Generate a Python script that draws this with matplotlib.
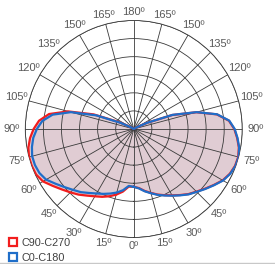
import numpy as np
import matplotlib
matplotlib.use('Agg')
import matplotlib.pyplot as plt
from matplotlib.lines import Line2D

plt.rcParams['font.family'] = ['Liberation Sans', 'DejaVu Sans']

# gamma angles (deg) and intensities (outer ring = 300)
gamma = [0, 5, 10, 15, 20, 25, 30, 35, 40, 45, 50, 55, 60, 65, 70, 75, 80, 85, 90,
         95, 100, 105, 110, 115, 120, 125, 180]
c0 = [160, 165, 175, 184, 194, 203, 213, 224, 236, 246, 258, 271, 285, 294, 299, 300, 296, 288, 279,
      265, 234, 180, 114, 40, 10, 0, 0]
c180 = [160, 158, 172, 182, 190, 198, 206, 216, 228, 238, 250, 264, 280, 288, 291, 291, 286, 279, 268,
        254, 228, 180, 110, 40, 10, 0, 0]
c90 = [160, 164, 174, 183, 193, 202, 212, 223, 235, 245, 257, 270, 284, 293, 298, 299, 295, 287, 278,
       264, 233, 179, 113, 40, 10, 0, 0]
c270 = [160, 160, 176, 188, 198, 207, 215, 225, 237, 248, 260, 274, 290, 298, 300, 300, 296, 288, 277,
        263, 238, 188, 118, 45, 12, 0, 0]
rings = [50, 100, 150, 200, 250, 300]
spokes = list(range(0, 360, 15))
labels = ['C90-C270', 'C0-C180']
colors = ['#f21d1d', '#1f6ec9']


def full_curve(right, left):
    # right half goes 0 -> 180, left half comes back 180 -> 360
    th = np.deg2rad(np.concatenate([gamma, 360 - np.array(gamma[::-1])]))
    r = np.concatenate([right, left[::-1]])
    return th, r


fig = plt.figure(figsize=(2.75, 2.64), dpi=100)
ax = fig.add_axes([0.092, 0.1004, 0.789, 0.822], projection='polar')
ax.set_theta_zero_location('S')
ax.set_theta_direction(1)

th_r, r_r = full_curve(c90, c270)
th_b, r_b = full_curve(c0, c180)
ax.fill(th_r, r_r, color='#e0ccd3', zorder=0.5, lw=0)
ax.plot(th_r, r_r, color=colors[0], lw=1.6, zorder=3)
ax.plot(th_b, r_b, color=colors[1], lw=1.6, zorder=4)

ax.set_ylim(0, 300)
ax.set_yticks(rings)
ax.set_yticklabels([])
ax.set_xticks(np.deg2rad(spokes))
ax.set_xticklabels([])
ax.set_axisbelow(False)
ax.grid(True, color='#3a3a3a', lw=0.6)
ax.spines['polar'].set_color('#3a3a3a')
ax.spines['polar'].set_linewidth(0.6)
ax.set_facecolor('white')

# angle labels just outside the outer ring
for t in spokes:
    th = np.deg2rad(t)
    rl = rings[-1] * (1.08 + 0.045 * abs(np.sin(th)))
    ax.text(th, rl, f'{t if t <= 180 else 360 - t}º', ha='center', va='center',
            fontsize=8, color='#595959', clip_on=False)

handles = [Line2D([], [], marker='s', ls='none', mfc='white', mec=c, mew=1.6, ms=5.5)
           for c in colors]
fig.legend(handles, labels, loc='lower left', bbox_to_anchor=(0.0, -0.02),
           frameon=False, fontsize=7.8, handletextpad=0.15, labelspacing=0.45,
           borderaxespad=0.2, handlelength=1.2, labelcolor='#404040')
fig.add_artist(Line2D([0, 1], [0.003, 0.003], color='#c8c8c8', lw=1))

fig.savefig('out.png', dpi=100)
